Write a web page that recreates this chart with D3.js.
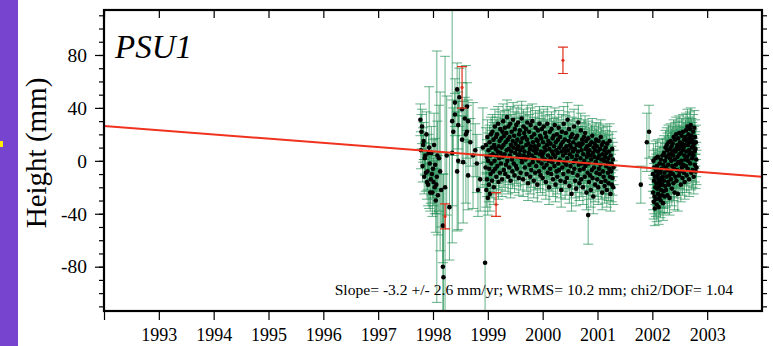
<!DOCTYPE html>
<html>
<head>
<meta charset="utf-8">
<script src="https://cdn.jsdelivr.net/npm/d3@7"></script>
<style>
body { margin: 0; background: #fff; }
svg { display: block; }
</style>
</head>
<body>
<script>
var site = "PSU1";
var statsText = "Slope= -3.2 +/- 2.6 mm/yr; WRMS= 10.2 mm; chi2/DOF= 1.04";
var yLabel = "Height (mm)";
var yearTicks = [1992, 1993, 1994, 1995, 1996, 1997, 1998, 1999, 2000, 2001, 2002, 2003];
var heightLabels = [-80, -40, 0, 40, 80];
var heightMinor = [-110, -100, -90, -80, -70, -60, -50, -40, -30, -20, -10, 0, 10, 20, 30, 40, 50, 60, 70, 80, 90, 100, 110];

// linear fit: height at fitYear0, slope mm/yr
var fitYear0 = 1992, fitHeight0 = 26.4, fitSlope = -3.2;

// early, sparse part of the series: [year, height mm, sigma mm]
var early = [
  [1997.77, 31, 12], [1997.78, 8, 14], [1997.79, 22, 13], [1997.80, 26, 13],
  [1997.81, -4, 12], [1997.82, 12, 13], [1997.83, 15, 14], [1997.84, -12, 13],
  [1997.85, 2, 12], [1997.86, 4, 15], [1997.87, -9, 14], [1997.88, 20, 17],
  [1997.89, -16, 13], [1997.90, -8, 14], [1997.91, -18, 16], [1997.92, 6, 14],
  [1997.93, 10, 46], [1997.94, -2, 15], [1997.95, -24, 14], [1997.96, -14, 18],
  [1997.97, 6, 20], [1997.98, -10, 16], [1997.99, -24, 18], [1998.00, -6, 22],
  [1998.01, -16, 18], [1998.02, 12, 24], [1998.03, -20, 20], [1998.04, -3, 20],
  [1998.05, -30, 24], [1998.06, -18, 22], [1998.07, -12, 95], [1998.08, 4, 26],
  [1998.09, -26, 30], [1998.11, 2, 40], [1998.13, -8, 60], [1998.15, -22, 28],
  [1998.18, -49, 28], [1998.18, -80, 70], [1998.19, -88, 78], [1998.22, -20, 99],
  [1998.25, 4, 45], [1998.30, -35, 40],
  [1998.35, 30, 92], [1998.35, 6, 40], [1998.37, 22, 18], [1998.40, 44, 18],
  [1998.40, 35, 16], [1998.44, 54, 20], [1998.44, -8, 45], [1998.46, 27, 18],
  [1998.46, 0, 52], [1998.48, 48, 22], [1998.53, 39, 20], [1998.53, 16, 18],
  [1998.55, -1, 46], [1998.58, 32, 16], [1998.60, 20, 52], [1998.62, 41, 18],
  [1998.62, 22, 20], [1998.64, 30, 16], [1998.64, -11, 26], [1998.68, 14, 18],
  [1998.73, 4, 40], [1998.77, 8, 20], [1998.80, -2, 22], [1998.82, -22, 20],
  [1998.86, -14, 24], [1998.91, 10, 30], [1998.95, -77, 88]
];

// dense daily part 1999-2001: regular sampling, heights in mm
var mainStart = 1998.96, mainStep = 0.0065, mainSigma = 13;
var mainHeights = [
  -5, 12, -22, 3, -14, 18, -28, 0,
  8, -18, -6, 14, -25, 4, -10, 20,
  -2, 10, -15, 22, 5, -8, 16, -20,
  12, 0, 26, -6, 9, 18, -12, 4,
  20, -4, 7, 28, -16, 11, 2, 15,
  -9, 24, 6, -2, 17, 10, -14, 22,
  3, 30, 12, -7, 19, 5, 25, -10,
  14, -3, 21, 8, 33, 0, 16, -12,
  26, 9, -5, 18, 4, 28, -15, 12,
  7, 22, 1, -8, 15, 31, 10, -2,
  19, -11, 24, 6, 13, -4, 27, 9,
  -6, 16, 3, 29, 11, -13, 20, 5,
  23, 8, -9, 14, 2, 32, -1, 17,
  10, -14, 26, 4, 21, 7, -5, 18,
  1, 24, 12, -10, 16, 29, 3, -17,
  13, 6, 22, -3, 9, -12, 27, 11,
  -7, 18, 4, 30, -1, 14, 8, -15,
  20, 2, 11, -9, 25, 6, -4, 16,
  9, -18, 15, 23, 0, 12, -8, 28,
  5, 19, -11, 7, 17, -2, 24, 3,
  -13, 14, 6, 26, -5, 10, 1, 21,
  8, -16, 18, -3, 12, 28, -9, 4,
  15, 0, -20, 9, 22, -6, 13, 2,
  -10, 24, 7, -1, 17, -14, 5, 19,
  11, -4, 27, 3, -18, 14, 8, -8,
  20, -12, 6, 16, -2, 25, -7, 10,
  1, 18, -15, 12, -22, 7, 22, -5,
  14, 4, -10, 28, 9, -1, 16, -16,
  6, 21, -3, 11, -13, 2, 31, 8,
  -8, 15, 24, -19, 5, 12, -4, 18,
  10, -25, 3, 20, -9, 7, 14, -1,
  26, -6, 9, -15, 17, 1, -21, 12,
  4, 19, -11, 7, 29, -3, 13, -17,
  -7, 11, 2, 23, -14, 8, -2, 16,
  13, -20, 5, -6, 18, 0, -12, 21,
  -4, 9, 15, -24, 3, 11, -9, 6,
  17, -2, -16, 8, 12, -11, 4, -22,
  1, 14, -7, 19, -13, 6, -27, 10,
  -5, 3, 13, -18, 8, -1, 16, -9,
  11, -14, 2, 7, -20, 15, -6, 4,
  -10, 9, -3, 18, -16, 1, 12, -24,
  5, -8, 14, -12, 0, 8, -19, 3,
  -15, 10, -4, 6, -22, 13, -1, -9,
  2, -17, 7, -6, 15, -12, -25, 4,
  -8, -2, -18, 9, -13, 1, -20, -5
];

// isolated points: [year, height mm, sigma mm]
var isolated = [
  [2000.83, -41, 22], [2001.79, -18, 14], [2001.90, 14, 22], [2001.94, 22, 20]
];

// dense part 2002
var lateStart = 2002.01, lateStep = 0.005, lateSigma = 13;
var lateHeights = [
  -10, -24, 0, -31, -15, -5, -27, -36,
  -12, -20, 2, -29, -8, -17, -33, -4,
  -21, -11, 3, -25, -14, -35, -7, -19,
  -28, -2, -16, -9, -30, 1, -22, -13,
  -6, -26, -18, 4, -12, -32, -3, -23,
  -15, 6, -9, -27, 0, -19, 10, -5,
  -22, 3, -12, 12, -7, -26, 8, -16,
  -3, 14, -18, 5, -11, -28, 2, 9,
  -8, 15, -14, 0, 11, -21, 6, -4,
  13, -10, 4, -17, 18, -6, 8, -24,
  1, 16, -12, 7, -3, 20, -15, 10,
  -7, 12, 3, -25, 17, -1, 9, -11,
  21, 5, -8, 14, -2, 11, -18, 6,
  0, 19, -5, 13, -13, 8, 22, -3,
  10, -9, 16, 4, -16, 12, 1, 18,
  -4, 23, 7, -11, 15, 3, 26, -6,
  12, 0, 20, 8, -14, 17, 5, 24,
  -2, 14, 27, 6, -9, 19, 10, 2,
  16, -7, 11, 22, 4, -12, 13, 25,
  7, -3, 18, 9, -8, 14, 1, -5
];

// rejected (red) points: [year, height mm, sigma mm]
var rejected = [
  [1998.22, -42, 9.4], [1998.53, 55.5, 15.7], [1999.15, -33, 9], [2000.37, 76, 10]
];

var W = 773, H = 346;
var frame = { left: 104, right: 762, top: 10, bottom: 311 };
var serif = "Liberation Serif";

var points = early.slice();
mainHeights.forEach(function (h, i) { points.push([mainStart + i * mainStep, h, mainSigma]); });
isolated.forEach(function (p) { points.push(p); });
lateHeights.forEach(function (h, i) { points.push([lateStart + i * lateStep, h, lateSigma]); });

var x = d3.scaleLinear().domain([1992, 2004]).range([frame.left, frame.right]);
var y = d3.scaleLinear().domain([-113.5, 114]).range([frame.bottom, frame.top]);

var svg = d3.select("body").append("svg")
  .attr("width", W)
  .attr("height", H);

svg.append("rect").attr("width", W).attr("height", H).attr("fill", "#fff");

// purple side strip
svg.append("rect").attr("x", 0).attr("y", 0).attr("width", 18).attr("height", H).attr("fill", "#7744d0");
svg.append("rect").attr("x", 0).attr("y", 141).attr("width", 3).attr("height", 6).attr("fill", "#ffee00");

svg.append("clipPath").attr("id", "clip")
  .append("rect")
  .attr("x", frame.left).attr("y", frame.top)
  .attr("width", frame.right - frame.left).attr("height", frame.bottom - frame.top);

var plot = svg.append("g").attr("clip-path", "url(#clip)");

function errorBars(g, data, color, width, opacity) {
  var bars = g.append("g")
    .attr("stroke", color)
    .attr("stroke-width", width)
    .attr("stroke-opacity", opacity)
    .attr("fill", "none");
  bars.selectAll("path").data(data).enter().append("path")
    .attr("d", function (d) {
      var cx = x(d[0]), y1 = y(d[1] + d[2]), y2 = y(d[1] - d[2]);
      return "M" + cx + "," + y1 + "V" + y2 +
        "M" + (cx - 5) + "," + y1 + "H" + (cx + 5) +
        "M" + (cx - 5) + "," + y2 + "H" + (cx + 5);
    });
}

errorBars(plot, points, "#14884a", 1, 0.65);

plot.append("g").selectAll("circle").data(points).enter().append("circle")
  .attr("cx", function (d) { return x(d[0]); })
  .attr("cy", function (d) { return y(d[1]); })
  .attr("r", 2.3)
  .attr("fill", "#000");

// fit line
var fitLine = d3.line()
  .x(function (d) { return x(d); })
  .y(function (d) { return y(fitHeight0 + fitSlope * (d - fitYear0)); });
plot.append("path")
  .attr("d", fitLine(x.domain()))
  .attr("stroke", "#f0321e")
  .attr("stroke-width", 2)
  .attr("fill", "none");

errorBars(plot, rejected, "#e0301e", 1.2, 1);
plot.append("g").selectAll("circle").data(rejected).enter().append("circle")
  .attr("cx", function (d) { return x(d[0]); })
  .attr("cy", function (d) { return y(d[1]); })
  .attr("r", 1.6)
  .attr("fill", "#e0301e");

// axes
function styleAxis(g) {
  g.attr("font-family", serif);
  g.select(".domain").remove();
  g.selectAll(".tick line").attr("stroke", "#000").attr("stroke-width", 1.2);
  g.selectAll("text").attr("fill", "#000").attr("font-family", serif).style("font-family", serif);
}
var plain = function (d) { return String(d); };

svg.append("g").attr("transform", "translate(" + frame.left + ",0)")
  .call(d3.axisLeft(y).tickValues(heightMinor).tickSize(5).tickFormat(""))
  .call(styleAxis);
svg.append("g").attr("transform", "translate(" + frame.left + ",0)")
  .call(d3.axisLeft(y).tickValues(heightLabels).tickSize(9).tickPadding(8).tickFormat(plain))
  .call(styleAxis)
  .selectAll("text").attr("font-size", 19.5);

svg.append("g").attr("transform", "translate(" + frame.right + ",0)")
  .call(d3.axisRight(y).tickValues(heightMinor).tickSize(5).tickFormat(""))
  .call(styleAxis);
svg.append("g").attr("transform", "translate(" + frame.right + ",0)")
  .call(d3.axisRight(y).tickValues(heightLabels).tickSize(7).tickFormat(""))
  .call(styleAxis);

svg.append("g").attr("transform", "translate(0," + frame.bottom + ")")
  .call(d3.axisBottom(x).tickValues(yearTicks).tickSize(9).tickPadding(8)
    .tickFormat(function (d) { return d === 1992 ? "" : String(d); }))
  .call(styleAxis)
  .selectAll("text").attr("font-size", 18);

svg.append("g").attr("transform", "translate(0," + frame.top + ")")
  .call(d3.axisTop(x).tickValues(yearTicks).tickSize(-8).tickFormat(""))
  .call(styleAxis);

// frame
svg.append("rect")
  .attr("x", frame.left).attr("y", frame.top)
  .attr("width", frame.right - frame.left).attr("height", frame.bottom - frame.top)
  .attr("fill", "none").attr("stroke", "#000").attr("stroke-width", 2.2);

svg.append("text")
  .attr("transform", "translate(46,153) rotate(-90)")
  .attr("text-anchor", "middle")
  .attr("font-family", serif)
  .attr("font-size", 29)
  .text(yLabel);

svg.append("text")
  .attr("x", 115).attr("y", 58)
  .attr("font-family", serif)
  .attr("font-size", 33)
  .attr("font-style", "italic")
  .text(site);

svg.append("text")
  .attr("x", 733).attr("y", 295)
  .attr("text-anchor", "end")
  .attr("font-family", serif)
  .attr("font-size", 15.6)
  .text(statsText);
</script>
</body>
</html>
